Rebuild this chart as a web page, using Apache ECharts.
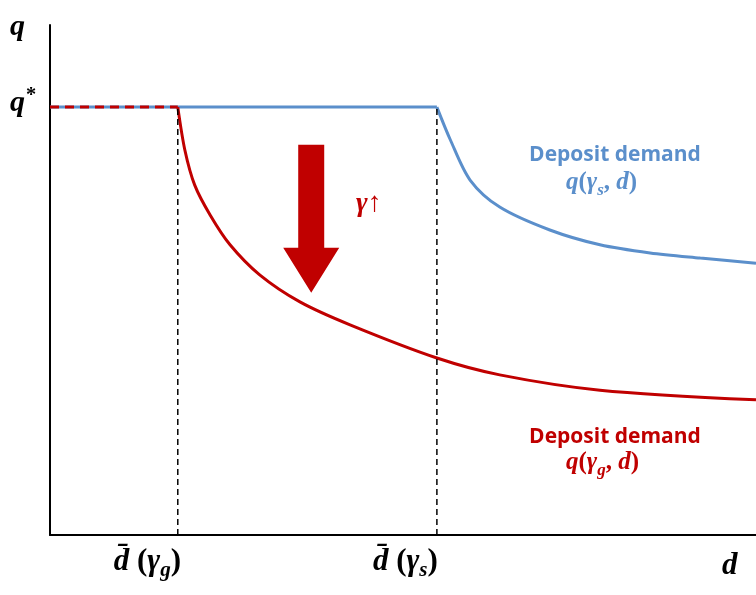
<!DOCTYPE html>
<html><head><meta charset="utf-8">
<script src="https://cdn.jsdelivr.net/npm/echarts@6/dist/echarts.min.js"></script>
<style>html,body{margin:0;padding:0;background:#fff}#c{width:756px;height:595px}</style>
</head><body><div id="c"></div>
<script>
// threshold values and curves
const qStar = 8.39;
const dG = 1.81, dS = 5.48;
const blueD = [5.48, 5.67, 5.95, 6.37, 7.08, 7.79, 8.50, 9.21, 10];
const blueQ = [8.39, 7.75, 6.96, 6.43, 5.98, 5.69, 5.53, 5.43, 5.33];
const redD = [1.81, 1.91, 2.05, 2.27, 2.55, 2.97, 3.54, 4.25, 5.48, 6.37, 7.79, 10];
const redQ = [8.39, 7.55, 6.86, 6.27, 5.69, 5.10, 4.57, 4.12, 3.47, 3.14, 2.84, 2.65];
const arrowFrom = [3.7, 7.65], arrowTo = [3.7, 4.75];

const BLUE = '#5b8fcb', RED = '#c00000';
const mathFont = 'Liberation Serif';
const zip = (a, b) => a.map((v, i) => [v, b[i]]);

const chart = echarts.init(document.getElementById('c'));
chart.setOption({
  animation: false,
  grid: {left: 50, right: 0, top: 25, bottom: 60},
  xAxis: {type: 'value', min: 0, max: 10, axisLine: {lineStyle: {color: '#000', width: 2}},
    axisTick: {show: false}, axisLabel: {show: false}, splitLine: {show: false}},
  yAxis: {type: 'value', min: 0, max: 10, axisLine: {show: true, lineStyle: {color: '#000', width: 2}},
    axisTick: {show: false}, axisLabel: {show: false}, splitLine: {show: false}},
  series: [
    {type: 'line', data: [[0, qStar], [dS, qStar]], symbol: 'none', lineStyle: {color: BLUE, width: 3}},
    {type: 'line', data: zip(blueD, blueQ), smooth: 0.3, symbol: 'none', lineStyle: {color: BLUE, width: 3}},
    {type: 'line', data: zip(redD, redQ), smooth: 0.3, symbol: 'none', lineStyle: {color: RED, width: 3}},
    {type: 'line', data: [[0, qStar], [dG, qStar]], symbol: 'none', lineStyle: {color: RED, width: 3, type: [9, 6]}},
    {type: 'line', data: [[dG, 0], [dG, qStar]], symbol: 'none', lineStyle: {color: '#000', width: 1.5, type: [6, 4]}},
    {type: 'line', data: [[dS, 0], [dS, qStar]], symbol: 'none', lineStyle: {color: '#000', width: 1.5, type: [6, 4]}}
  ]
});

const p = v => chart.convertToPixel({gridIndex: 0}, v);
const a0 = p(arrowFrom), a1 = p(arrowTo);
const sw = 13, hw = 28, hh = 45;
function mtext(x, y, rich, color, size) {
  size = size || 26;
  return {type: 'text', x, y, style: {text: rich, fill: color, fontFamily: mathFont, fontStyle: 'italic', fontWeight: 'bold', fontSize: size,
    rich: {
      s: {fill: color, fontFamily: mathFont, fontStyle: 'italic', fontWeight: 'bold', fontSize: size * 0.68, verticalAlign: 'bottom', padding: [0, 0, -4, 0]},
      u: {fill: color, fontFamily: mathFont, fontStyle: 'normal', fontWeight: 'bold', fontSize: size * 0.68, verticalAlign: 'top', padding: [-2, 0, 0, 1]},
      n: {fontFamily: mathFont, fontStyle: 'normal', fontWeight: 'bold', fontSize: size, fill: color}}}};
}
chart.setOption({graphic: [
  {type: 'polygon', shape: {points: [[a0[0]-sw, a0[1]], [a0[0]+sw, a0[1]], [a0[0]+sw, a1[1]-hh], [a0[0]+hw, a1[1]-hh],
    [a0[0], a1[1]], [a0[0]-hw, a1[1]-hh], [a0[0]-sw, a1[1]-hh]]}, style: {fill: RED}},
  mtext(10, 12, 'q', '#000', 30),
  mtext(10, 88, 'q{u|*}', '#000', 30),
  mtext(p([dG,0])[0] - 64, 546, 'd\u0304 {n|(}γ{s|g}{n|)}', '#000', 31),
  mtext(p([dS,0])[0] - 64, 546, 'd\u0304 {n|(}γ{s|s}{n|)}', '#000', 31),
  mtext(722, 550, 'd', '#000', 31),
  mtext(356, 190, 'γ{n|↑}', RED, 28),
  {type: 'text', x: 615, y: 155, style: {text: 'Deposit demand', fill: BLUE, fontFamily: 'Open Sans', fontWeight: 'bold', fontSize: 21, align: 'center', verticalAlign: 'middle'}},
  mtext(566, 170, 'q{n|(}γ{s|s}{n|, }d{n|)}', BLUE, 25),
  {type: 'text', x: 615, y: 437, style: {text: 'Deposit demand', fill: RED, fontFamily: 'Open Sans', fontWeight: 'bold', fontSize: 21, align: 'center', verticalAlign: 'middle'}},
  mtext(566, 450, 'q{n|(}γ{s|g}{n|, }d{n|)}', RED, 25)
]});
</script></body></html>
